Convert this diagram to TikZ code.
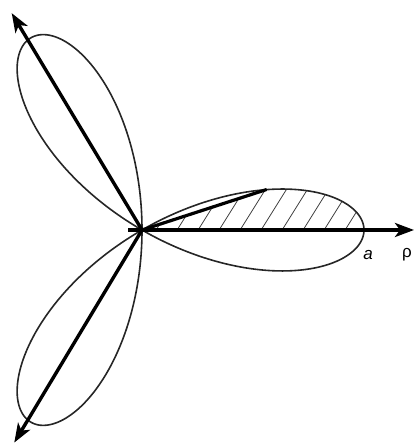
\documentclass[tikz,border=0pt]{standalone}
\usepackage{fontspec}
\setmainfont{Liberation Sans}
\usetikzlibrary{arrows.meta}
\tikzset{
  petal/.style={line width=1.6pt, draw=black!85, line join=round},
  ray/.style={line width=3.4pt, -{Stealth[length=19pt,width=14pt,inset=5pt]}},
  plainray/.style={line width=3.2pt, line cap=round},
  hatchline/.style={line width=0.8pt, draw=black!75},
  lab/.style={font=\fontsize{17}{19}\selectfont, inner sep=0pt}
}
\begin{document}
\begin{tikzpicture}[x=1pt,y=1pt]
\useasboundingbox (0,0) rectangle (419,444);
\coordinate (O) at (142,214);
\begin{scope}[shift={(O)}]
  % hatched region between polar axis and ray at 18 degrees
  \begin{scope}
    \clip (0,0) -- plot[domain=18:0, samples=60, smooth] ({222*cos(3*\x)*cos(\x)},{222*cos(3*\x)*sin(\x)}) -- cycle;
    \foreach \s in {0,21,...,330} {
      \draw[hatchline] (\s-60,-85) -- ++(58:200);
    }
  \end{scope}
  % three-petal rose
  \draw[petal] plot[domain=0:180, samples=361, smooth] ({222*cos(3*\x)*cos(\x)},{222*cos(3*\x)*sin(\x)}) -- cycle;
  % rays
  \coordinate (A0) at (-14,0);
  \coordinate (A1) at (272,0);
  \coordinate (U) at (121:253);
  \coordinate (D) at (239:248);
  \coordinate (R) at (18:130.5);
  \coordinate (C) at (0,0);
  \draw[ray] (A0) -- (A1);
  \draw[ray] (C) -- (U);
  \draw[ray] (C) -- (D);
  \draw[plainray] (C) -- (R);
  \node[lab, font=\fontsize{17}{19}\selectfont\itshape] (la) at (226,-25) {a};
  \node[lab] (lr) at (265,-25) {ρ};
\end{scope}
\end{tikzpicture}
\end{document}
